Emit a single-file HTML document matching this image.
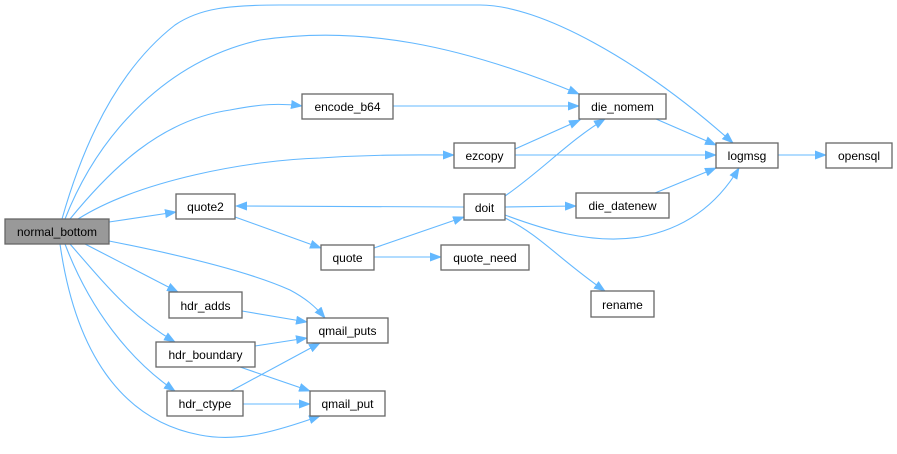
<!DOCTYPE html>
<html><head><meta charset="utf-8"><style>
body{margin:0;background:#fff;width:897px;height:449px;overflow:hidden}
text{font-family:"Liberation Sans",Arial,sans-serif;font-size:12px;fill:#000;text-anchor:middle}
.n{fill:#fff;stroke:#666;stroke-width:1.3}
.e{fill:none;stroke:#63b8ff;stroke-width:1.1}
</style></head><body>
<svg width="897" height="449" viewBox="0 0 897 449" xmlns="http://www.w3.org/2000/svg">
<defs><marker id="a" markerWidth="12" markerHeight="9" refX="11" refY="4.5" orient="auto" markerUnits="userSpaceOnUse"><path d="M0,0 L12,4.5 L0,9 Z" fill="#63b8ff"/></marker></defs>
<g class="e" marker-end="url(#a)">
<path d="M62,219 C90,120 130,60 175,25 C200,8 230,5 280,5 L480,5 C540,5 640,60 733,143"/>
<path d="M65,219 C100,130 170,60 260,40 C360,25 460,45 579,94"/>
<path d="M70,219 C110,170 160,120 230,110 C260,104 280,103 302,106"/>
<path d="M78,219 C140,180 250,160 320,158 C380,154 420,155 454,155"/>
<path d="M109,222 L176,212"/>
<path d="M109,241 C180,255 250,272 290,290 C305,298 315,306 325,318"/>
<path d="M85,244 L178,292"/>
<path d="M70,244 C110,290 130,315 175,342"/>
<path d="M65,244 C90,310 130,360 175,391"/>
<path d="M60,244 C75,350 120,420 200,435 C240,443 280,430 320,416"/>
<path d="M393,106 L579,106"/>
<path d="M515,149 L580,120"/>
<path d="M515,155 L716,155"/>
<path d="M656,119 L716,145"/>
<path d="M778,155 L826,155"/>
<path d="M464,207 L236,206"/>
<path d="M505,196 C540,172 570,140 605,119"/>
<path d="M505,207 L576,206"/>
<path d="M505,215 C540,228 590,245 640,237 C690,228 720,200 739,168"/>
<path d="M505,218 C540,235 560,260 605,291"/>
<path d="M655,193 L716,168"/>
<path d="M235,217 L321,248"/>
<path d="M374,248 L464,217"/>
<path d="M374,257 L441,257"/>
<path d="M242,311 L307,322"/>
<path d="M255,346 L307,338"/>
<path d="M240,367 L310,391"/>
<path d="M231,391 L320,343"/>
<path d="M243,404 L310,404"/>
</g>
<rect x="5" y="219" width="104" height="25" fill="#999" stroke="#666" stroke-width="1.3"/><text x="57" y="236">normal_bottom</text>
<rect class="n" x="176" y="194" width="59" height="25"/><text x="205.5" y="211">quote2</text>
<rect class="n" x="302" y="94" width="91" height="25"/><text x="347.5" y="111">encode_b64</text>
<rect class="n" x="321" y="245" width="53" height="25"/><text x="347.5" y="262">quote</text>
<rect class="n" x="169" y="292" width="73" height="26"/><text x="205.5" y="310">hdr_adds</text>
<rect class="n" x="307" y="318" width="81" height="25"/><text x="347.5" y="335">qmail_puts</text>
<rect class="n" x="156" y="342" width="99" height="25"/><text x="205.5" y="359">hdr_boundary</text>
<rect class="n" x="167" y="391" width="76" height="25"/><text x="205" y="408">hdr_ctype</text>
<rect class="n" x="310" y="391" width="75" height="25"/><text x="347.5" y="408">qmail_put</text>
<rect class="n" x="579" y="94" width="87" height="25"/><text x="622.5" y="111">die_nomem</text>
<rect class="n" x="454" y="143" width="61" height="25"/><text x="484.5" y="160">ezcopy</text>
<rect class="n" x="716" y="143" width="62" height="25"/><text x="747" y="160">logmsg</text>
<rect class="n" x="826" y="143" width="66" height="25"/><text x="859" y="160">opensql</text>
<rect class="n" x="464" y="194" width="41" height="26"/><text x="484.5" y="212">doit</text>
<rect class="n" x="576" y="193" width="93" height="25"/><text x="622.5" y="210">die_datenew</text>
<rect class="n" x="441" y="245" width="88" height="25"/><text x="485" y="262">quote_need</text>
<rect class="n" x="591" y="291" width="63" height="26"/><text x="622.5" y="309">rename</text>
</svg>
</body></html>
